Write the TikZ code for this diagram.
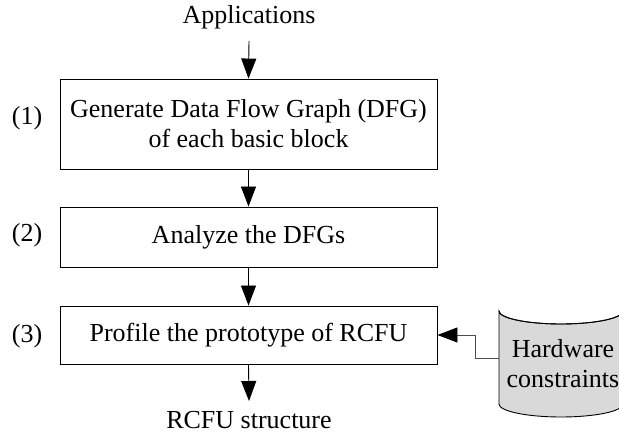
\documentclass[tikz,border=0pt]{standalone}
\usepackage{fontspec}
\setmainfont{Liberation Serif}
\usetikzlibrary{arrows.meta}
\begin{document}
\begin{tikzpicture}[x=1pt,y=-1pt,
  every node/.style={font=\fontsize{26}{30}\selectfont, inner sep=0pt},
  stepbox/.style={draw=black, line width=0.9pt, minimum width=377pt, align=center},
  flow/.style={line width=0.9pt, -{Triangle[length=20pt,width=15pt]}},
  feed/.style={line width=0.9pt, draw=black!70, -{Triangle[length=20pt,width=15pt,fill=black,color=black]}}
]
\useasboundingbox (0,0) rectangle (619,435);

% process steps
\node (apps) at (249,17) {Applications};
\node[stepbox, minimum height=90pt] (gen) at (248.5,124) {Generate Data Flow Graph (DFG)\\of each basic block};
\node[stepbox, minimum height=60pt] (ana) at (248.5,237) {Analyze the DFGs};
\node[stepbox, minimum height=58pt] (prof) at (248.5,335) {Profile the prototype of RCFU};
\node (out) at (249,420) {RCFU structure};

% step numbers
\node (n1) at (27,118) {(1)};
\node (n2) at (27,235) {(2)};
\node (n3) at (27,336) {(3)};

% hardware constraints storage
\begin{scope}
\clip (0,0) rectangle (619,435);
\fill[black!15] (499,311) -- (499,404) arc[start angle=180, end angle=360, x radius=62, y radius=-13]
  -- (623,311) arc[start angle=0, end angle=180, x radius=62, y radius=13] -- cycle;
\draw[line width=0.9pt] (499,311) -- (499,404) arc[start angle=180, end angle=360, x radius=62, y radius=-13]
  -- (623,311) arc[start angle=0, end angle=180, x radius=62, y radius=13] -- cycle;
\draw[line width=0.9pt] (499,311) arc[start angle=180, end angle=360, x radius=62, y radius=-13];
\end{scope}
\node[align=center] (hw) at (563,364) {Hardware\\constraints};
\coordinate (hwin) at (499,358);

% connectors
\draw[flow] (apps) ++(0,24) -- (gen.north);
\draw[flow] (gen.south) -- (ana.north);
\draw[flow] (ana.south) -- (prof.north);
\draw[flow] (prof.south) -- (249,401);
\draw[feed] (hwin) -- (475,358) |- (prof.east);
\end{tikzpicture}
\end{document}
